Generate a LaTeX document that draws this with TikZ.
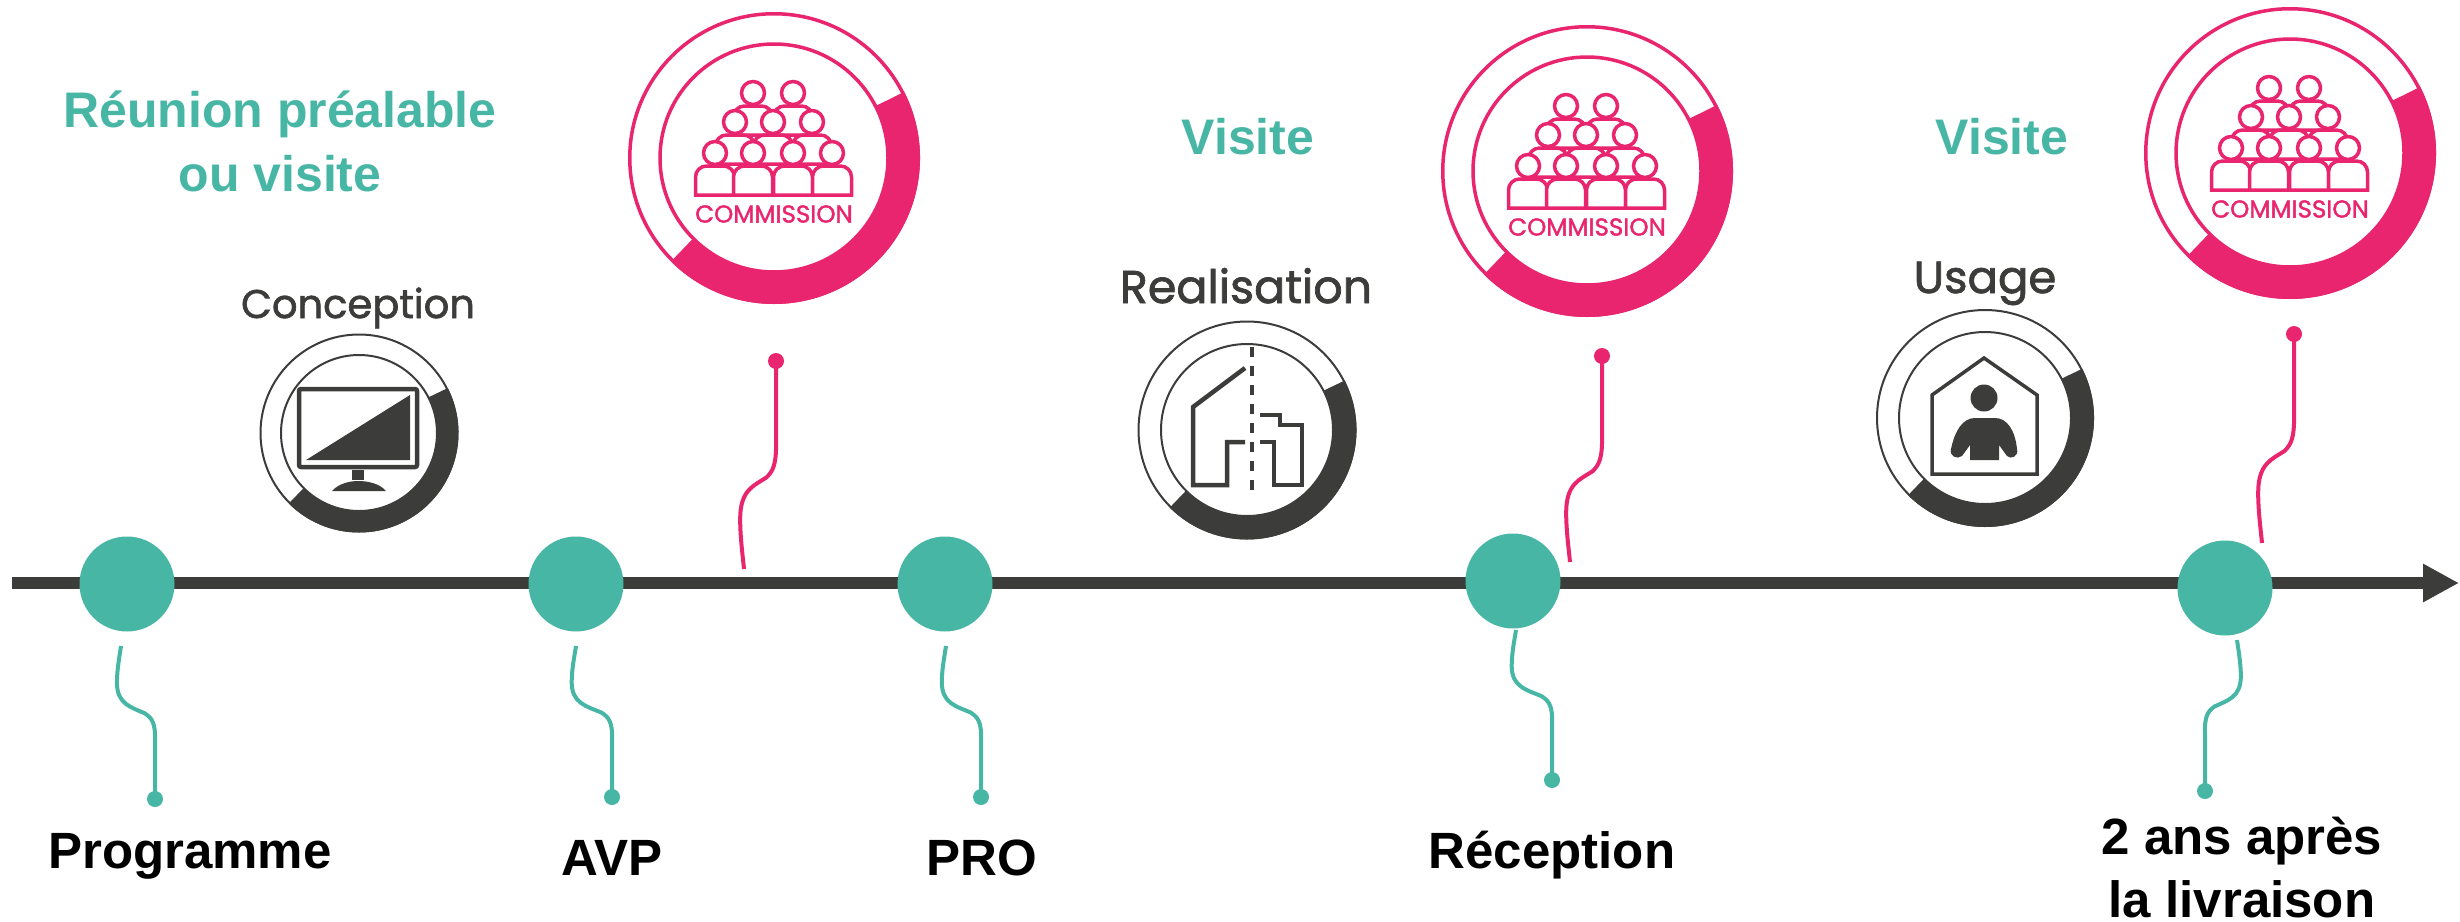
\documentclass[tikz,border=0pt]{standalone}
\usepackage{fontspec}
\setmainfont{Liberation Sans}
\newfontfamily\iconfont[FakeBold=1.6]{Poppins}
\usetikzlibrary{arrows.meta, calc}
\definecolor{tealc}{HTML}{48B6A5}
\definecolor{pinkc}{HTML}{E8256E}
\definecolor{darkc}{HTML}{3C3C3B}
\tikzset{
    main/.style = {circle, fill=tealc, minimum size=95pt, inner sep=0pt},
    tip/.style = {circle, fill=#1, minimum size=16pt, inner sep=0pt},
    wire/.style = {#1, line width=4pt},
    title/.style = {anchor=base, inner sep=0pt, font=\bfseries\fontsize{51}{63}\selectfont},
    head/.style = {anchor=base, inner sep=0pt, align=center, text=tealc, font=\bfseries\fontsize{50}{64}\selectfont},
    caption/.style = {anchor=base, inner sep=0pt, text=darkc, font=\iconfont\fontsize{#1}{40}\selectfont},
    person/.style = {draw=pinkc, fill=white, line width=3.5pt},
    commission/.pic = {
        \ring{pinkc}{146}{114}{3.5}
        % back row first, the front ones cover it
        \foreach \px/\py in {-21/-65, 19/-65, -39/-36, -1/-36, 38/-36, -59/-5, -21/-5, 19/-5, 58/-5} {
            \draw[person] (\px-19.5,\py+42) [rounded corners=11pt] -- (\px-19.5,\py+13) -- (\px+19.5,\py+13) [sharp corners] -- (\px+19.5,\py+42) -- cycle;
            \draw[person] (\px,\py) circle (11.5);
        }
        \node[inner sep=0pt, text=pinkc, font=\iconfont\fontsize{24.5}{24}\selectfont] at (0,56) {COMMISSION};
    }
}
% thin circles and the thick part of a ring
\newcommand{\ring}[4]{
    \draw[#1, line width=#4pt] (0,0) circle (#2-#4/2);
    \draw[#1, line width=#4pt] (0,0) circle (#3);
    \draw[#1, line width=#2pt-#3pt] (-27:{(#2+#3)/2}) arc[start angle=-27, end angle=135, radius={(#2+#3)/2}];
}
\newcommand{\wig}[2]{({\x1+#1*(\x2-\x1)},{\y1+#2*(\y2-\y1)})}
\newcommand{\wiggle}[3]{
    \draw[wire=#1] let \p1=(#2), \p2=(#3) in (\p1) .. controls \wig{0}{.2} and \wig{0}{.3} .. \wig{0}{.38}
        .. controls \wig{-.02}{.5} and \wig{.1}{.53} .. \wig{.3}{.56}
        .. controls \wig{.7}{.6} and \wig{1.12}{.62} .. \wig{1.12}{.76}
        .. controls \wig{1.12}{.85} and \wig{1.03}{.95} .. (\p2);
}
\begin{document}
\begin{tikzpicture}[x=1pt, y=-1pt]
    \useasboundingbox (0,0) rectangle (2460,921);
    \coordinate (axis0) at (12,583);
    \coordinate (axis1) at (2459,583);
    \draw[darkc, line width=12pt, -{Triangle[length=36pt, width=36pt]}] (axis0) -- (axis1);

    \node[main] (prog) at (127,584) {};
    \node[main] (avp) at (576,584) {};
    \node[main] (pro) at (945,584) {};
    \node[main] (recep) at (1513,581) {};
    \node[main] (liv) at (2225,588) {};

    % teal wires below the axis
    \node[tip=tealc] (progdot) at (155,799) {};
    \node[tip=tealc] (avpdot) at (612,797) {};
    \node[tip=tealc] (prodot) at (981,797) {};
    \node[tip=tealc] (recepdot) at (1552,780) {};
    \node[tip=tealc] (livdot) at (2205,791) {};
    \coordinate (progend) at (121,646);
    \coordinate (avpend) at (576,646);
    \coordinate (proend) at (946,646);
    \coordinate (recepend) at (1516,630);
    \coordinate (livend) at (2237,640);
    \wiggle{tealc}{progdot}{progend}
    \wiggle{tealc}{avpdot}{avpend}
    \wiggle{tealc}{prodot}{proend}
    \wiggle{tealc}{recepdot}{recepend}
    \wiggle{tealc}{livdot}{livend}

    % pink wires above the axis
    \node[tip=pinkc] (com1dot) at (776,361) {};
    \node[tip=pinkc] (com2dot) at (1602,356) {};
    \node[tip=pinkc] (com3dot) at (2294,334) {};
    \coordinate (com1end) at (744,569);
    \coordinate (com2end) at (1570,562);
    \coordinate (com3end) at (2262,543);
    \wiggle{pinkc}{com1dot}{com1end}
    \wiggle{pinkc}{com2dot}{com2end}
    \wiggle{pinkc}{com3dot}{com3end}

    \pic at (774,158) {commission};
    \pic at (1587,171) {commission};
    \pic at (2290,153) {commission};

    % Conception
    \begin{scope}[shift={(359,433)}]
        \ring{darkc}{99.5}{78}{2}
        \draw[darkc, line width=4.5pt, rounded corners=2pt] (-60,-44) rectangle (58,34);
        \fill[darkc] (-53,27) -- (51,-38) -- (51,27) -- cycle;
        \fill[darkc] (-7,37) rectangle (5,47);
        \fill[darkc] (-27,58) .. controls (-20,50) and (-8,48) .. (-1,48) .. controls (8,48) and (20,50) .. (27,58) -- cycle;
    \end{scope}
    \node[caption=40] (concep) at (358,318) {Conception};

    % Realisation
    \begin{scope}[shift={(1247,430)}]
        \ring{darkc}{109.5}{86}{2}
        \draw[darkc, line width=4.5pt] (-2,-62) -- (-54,-23) -- (-54,55) -- (-20,55) -- (-20,12) -- (-2,12);
        \draw[darkc, line width=4.5pt] (13,12) -- (27,12) -- (27,55) -- (55,55) -- (55,-5) -- (33,-5) -- (33,-15) -- (13,-15);
        \draw[darkc, line width=4.5pt, dash pattern=on 10pt off 9pt] (5,-83) -- (5,63);
    \end{scope}
    \node[caption=46] (real) at (1246,303) {Realisation};

    % Usage
    \begin{scope}[shift={(1985,418)}]
        \ring{darkc}{109}{86}{2}
        \draw[darkc, line width=3.5pt] (-53,-23) -- (-1,-60) -- (52,-23) -- (52,56) -- (-53,56) -- cycle;
        \fill[darkc] (-1,-20) circle (13.5);
        \fill[darkc] (-15,42) -- (-15,27) -- (-23,38) .. controls (-28,42) and (-36,38) .. (-34,31) .. controls (-30,12) and (-22,0) .. (-10,0) -- (10,0) .. controls (22,0) and (30,12) .. (32,31) .. controls (34,38) and (26,42) .. (22,38) -- (14,27) -- (14,42) -- cycle;
    \end{scope}
    \node[caption=45] (usage) at (1985,293) {Usage};

    \node[head] (reunion) at (280,191) {Réunion préalable\\ou visite};
    \node[head] (visite1) at (1248,154) {Visite};
    \node[head] (visite2) at (2002,154) {Visite};

    \node[title] (progtxt) at (190,868) {Programme};
    \node[title] (avptxt) at (612,875) {AVP};
    \node[title] (protxt) at (982,875) {PRO};
    \node[title] (receptxt) at (1552,868) {Réception};
    \node[title, align=center] (livtxt) at (2242,917) {2 ans après\\la livraison};
\end{tikzpicture}
\end{document}
